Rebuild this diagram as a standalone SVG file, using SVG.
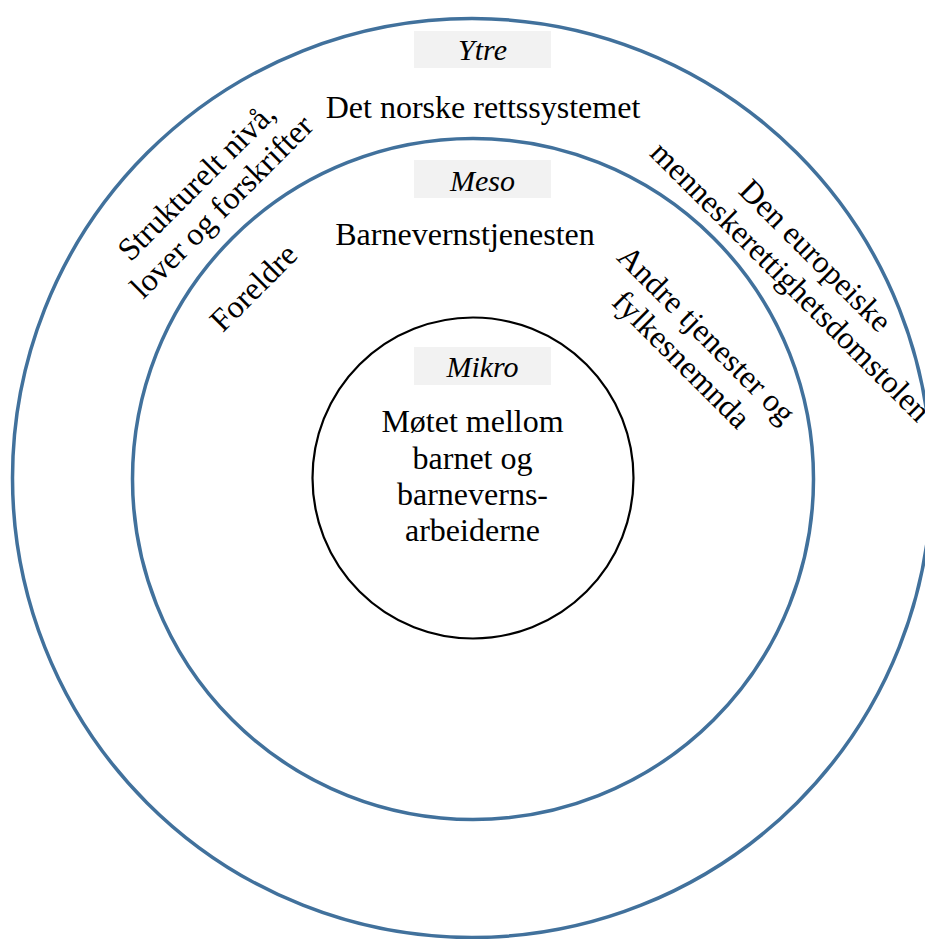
<svg xmlns="http://www.w3.org/2000/svg" width="925" height="939" viewBox="0 0 925 939">
<style>
.ring{fill:none;stroke:#41719C;stroke-width:3.5}
.core{fill:#fff;stroke:#000;stroke-width:2.2}
.lab{fill:#F2F2F2}
</style>
<rect width="925" height="939" fill="#fff"/>
<g id="ytre" text-anchor="middle" font-size="32">
<circle class="ring" cx="472" cy="478" r="459.5"/>
<rect class="lab" x="414" y="31" width="137" height="37"/>
<text font-family="Liberation Serif" font-style="italic" font-size="30" x="482.5" y="60">Ytre</text>
<text font-family="Liberation Serif" x="483" y="118">Det norske rettssystemet</text>
<text font-family="Liberation Serif" transform="translate(204,189) rotate(-45)">Strukturelt nivå,</text>
<text font-family="Liberation Serif" transform="translate(229,214) rotate(-45)">lover og forskrifter</text>
<text font-family="Liberation Serif" transform="translate(808,263) rotate(45)">Den europeiske</text>
<text font-family="Liberation Serif" transform="translate(783,289) rotate(45)">menneskerettighetsdomstolen</text>
</g>
<g id="meso" text-anchor="middle" font-size="32">
<circle class="ring" cx="473" cy="479" r="340.5"/>
<rect class="lab" x="414" y="160" width="137" height="38"/>
<text font-family="Liberation Serif" font-style="italic" font-size="30" x="482.5" y="191">Meso</text>
<text font-family="Liberation Serif" x="465" y="245">Barnevernstjenesten</text>
<text font-family="Liberation Serif" transform="translate(261,295) rotate(-45)">Foreldre</text>
<text font-family="Liberation Serif" transform="translate(699,342) rotate(45)">Andre tjenester og</text>
<text font-family="Liberation Serif" transform="translate(674,367) rotate(45)">fylkesnemnda</text>
</g>
<g id="mikro" text-anchor="middle" font-size="32">
<circle class="core" cx="473" cy="478" r="160.5"/>
<rect class="lab" x="414" y="347" width="137" height="38"/>
<text font-family="Liberation Serif" font-style="italic" font-size="30" x="482.5" y="377">Mikro</text>
<text font-family="Liberation Serif" x="472.5" y="432">Møtet mellom</text>
<text font-family="Liberation Serif" x="472.5" y="469">barnet og</text>
<text font-family="Liberation Serif" x="472.5" y="505">barneverns-</text>
<text font-family="Liberation Serif" x="472.5" y="541">arbeiderne</text>
</g>
</svg>
